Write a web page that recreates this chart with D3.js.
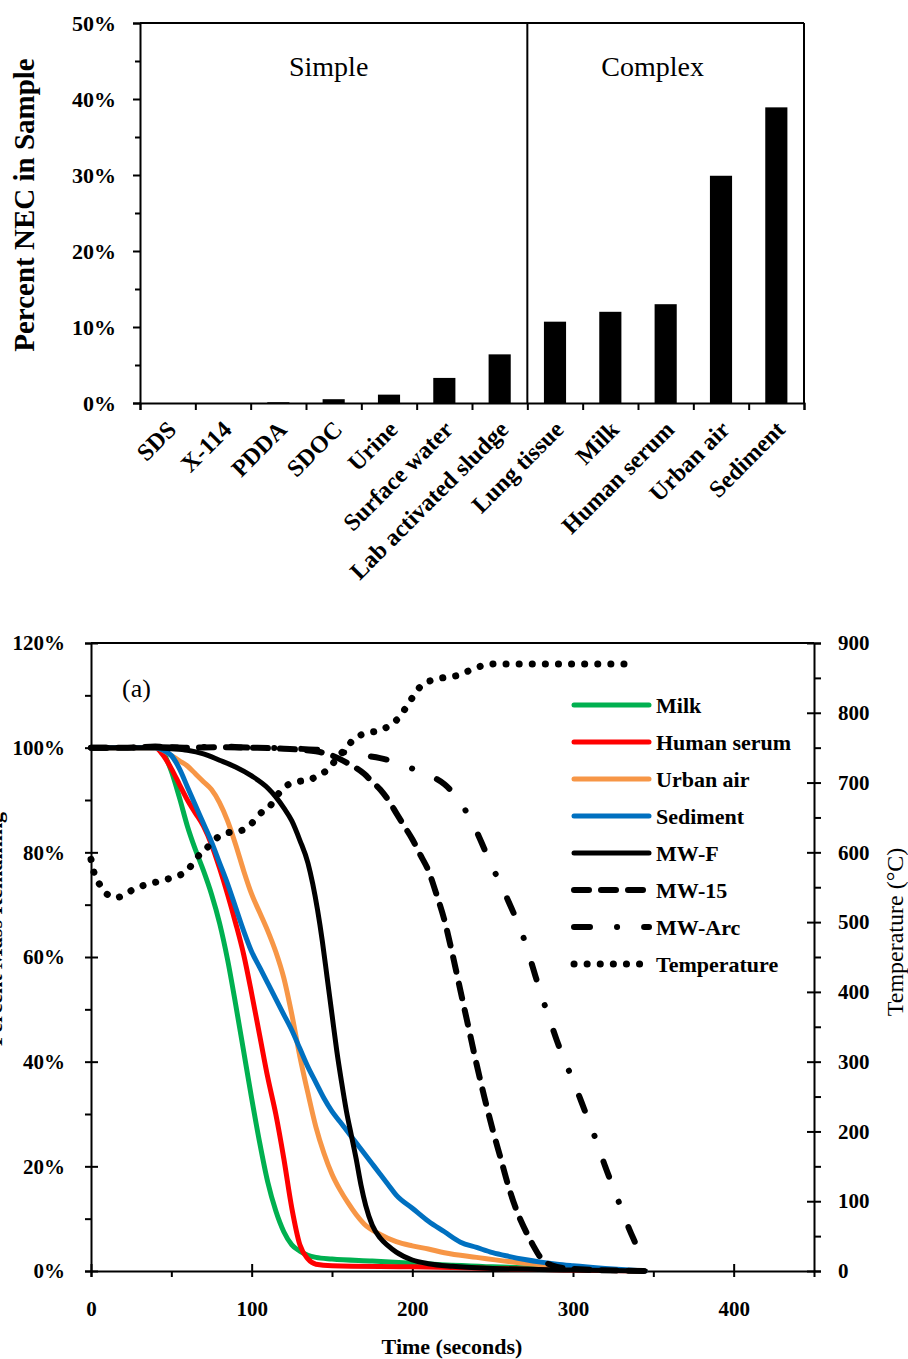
<!DOCTYPE html>
<html lang="en">
<head>
<meta charset="utf-8">
<script src="https://d3js.org/d3.v7.min.js"></script>
<style>
  body { margin: 0; background: white; }
  svg { font-family: 'Liberation Serif', 'Times New Roman', serif; }
  .axis path, .axis line, .frame { stroke: black; stroke-width: 2px; fill: none; }
  .axis text { font-family: 'Liberation Serif', 'Times New Roman', serif; font-weight: bold; fill: black; }
  .series { fill: none; stroke-linejoin: round; }
</style>
</head>
<body>
<svg width="908" height="1359"></svg>
<script>
// ---- top chart data: percent NEC per sample
var categories = ["SDS", "X-114", "PDDA", "SDOC", "Urine", "Surface water", "Lab activated sludge",
                  "Lung tissue", "Milk", "Human serum", "Urban air", "Sediment"];
var necPercent = [0, 0, 0.1, 0.5, 1.1, 3.3, 6.4, 10.7, 12.0, 13.0, 29.9, 38.9];
var groupLabels = ["Simple", "Complex"];

// ---- bottom chart data: percent mass remaining vs time (s)
var milk = [[0,100],[40,100],[45,99],[50,95.5],[55,90.5],[60,85],[65,80.5],[70,76.5],[75,72],[80,66.5],[85,59.5],
  [90,51],[95,42],[100,33],[105,24.5],[110,17],[115,11.5],[120,7.5],[125,5],[130,3.8],[135,3],[140,2.6],
  [150,2.3],[175,1.9],[200,1.5],[250,0.8],[300,0.4],[345,0]];
var humanSerum = [[0,100],[40,100],[45,98.5],[50,96],[55,93],[60,90],[65,87.5],[70,85],[75,81.5],[80,77],[85,72],
  [90,66.5],[95,60.5],[100,53],[105,45],[110,37],[115,30],[120,21.5],[125,12],[130,5],[135,2.3],[140,1.3],
  [150,1],[200,0.8],[250,0.5],[300,0.2],[345,0]];
var urbanAir = [[0,100],[40,100],[45,99.5],[50,98.5],[55,97.5],[60,96.5],[65,95],[70,93.5],[75,92],[80,89.5],
  [85,86],[90,81.5],[95,76.5],[100,72],[105,68.5],[110,65],[115,61],[120,56],[125,49],[130,41],[135,34],
  [140,27.5],[145,22.5],[150,18.5],[155,15.5],[160,13],[165,10.8],[170,9],[180,7],[190,5.6],[200,4.8],
  [210,4.2],[220,3.5],[240,2.6],[260,1.8],[280,1.2],[300,0.7],[320,0.3],[345,0]];
var sediment = [[0,100],[40,100],[45,99.5],[50,98.5],[55,96],[60,92.5],[65,89],[70,85.5],[75,82],[80,78],
  [85,74],[90,69.5],[95,65],[100,61],[105,58],[110,55],[115,52],[120,49],[125,46],[130,42.5],[135,39],
  [140,36],[145,33],[150,30.5],[155,28.5],[160,26.5],[165,24.5],[170,22.5],[175,20.5],[180,18.5],
  [185,16.5],[190,14.5],[200,12],[210,9.5],[220,7.5],[230,5.5],[240,4.5],[250,3.5],[260,2.8],[270,2.2],
  [280,1.7],[290,1.3],[300,1],[320,0.5],[345,0]];
var mwF = [[0,100],[40,100],[50,99.8],[60,99.5],[70,98.8],[80,97.6],[90,96.3],[100,94.6],[110,92.3],[115,90.6],
  [120,88.5],[125,86],[130,82.3],[135,78],[138,74],[141,69],[144,63],[147,56],[150,49],[153,42],[156,36],
  [159,30.5],[162,26],[165,21.5],[168,16.5],[171,12.5],[175,8.8],[180,6.3],[185,4.8],[190,3.6],[200,2.1],
  [210,1.4],[225,0.9],[250,0.5],[300,0.2],[345,0]];
var mw15 = [[0,100],[20,100],[40,100.2],[60,100],[80,100.1],[100,100],[120,99.8],[140,99.3],[150,98.5],
  [160,97],[170,95],[175,93.5],[180,92],[185,90],[190,87.5],[195,85],[200,82.5],[205,79.5],[210,76.5],
  [215,72],[220,67],[225,60.5],[230,53.5],[235,46.5],[240,39.5],[245,33],[250,27],[255,21.5],[260,16],
  [265,11.5],[270,8],[275,5],[280,2.5],[285,1.3],[290,0.8],[300,0.4],[345,0]];
var mwArc = [[0,100],[20,100],[40,100.1],[60,100],[80,100.2],[100,100],[120,99.9],[140,99.6],[160,99],
  [170,98.5],[180,98],[190,97.2],[200,96],[210,94.8],[220,93],[225,91.5],[230,89.5],[235,87],[240,84],
  [245,80.5],[250,77],[255,74],[260,70.5],[265,67],[270,63],[275,58],[280,53],[285,48.5],[290,44],
  [295,40],[300,36.5],[305,32.5],[310,28.5],[315,24.5],[320,20],[325,16],[330,12],[335,8],[340,4.5],[342,3]];
var temperature = [[0,590],[2,570],[6,552],[10,540],[15,535],[20,538],[25,545],[32,552],[40,557],[48,562],
  [55,567],[60,574],[65,590],[72,606],[78,620],[85,628],[92,630],[99,639],[105,655],[111,665],[116,682],
  [122,696],[128,701],[136,704],[142,711],[149,722],[153,735],[158,747],[164,763],[172,771],[180,775],
  [186,782],[192,794],[197,811],[201,825],[206,840],[213,847],[221,851],[229,854],[236,861],[243,867],
  [251,870],[300,870],[338,870]];

var seriesNames = ["Milk", "Human serum", "Urban air", "Sediment", "MW-F", "MW-15", "MW-Arc", "Temperature"];

var svg = d3.select("svg");

// ================= top bar chart =================
var m1 = { left: 140, right: 804, top: 23, bottom: 403 };

var x1 = d3.scaleBand().domain(categories).range([m1.left, m1.right])
    .paddingInner(0.6).paddingOuter(0.3);
var y1 = d3.scaleLinear().domain([0, 50]).range([m1.bottom, m1.top]);

var g1 = svg.append("g");

// minor ticks
g1.append("g").attr("class", "axis")
    .attr("transform", "translate(" + m1.left + ",0)")
    .call(d3.axisLeft(y1).tickValues(d3.range(5, 50, 10)).tickSize(5).tickFormat(""))
    .select(".domain").remove();

g1.append("g").attr("class", "axis")
    .attr("transform", "translate(" + m1.left + ",0)")
    .call(d3.axisLeft(y1).tickValues(d3.range(0, 51, 10)).tickSize(7).tickPadding(17)
      .tickFormat(d => d + "%"))
    .call(g => g.selectAll("text").style("font-size", "22px"));

// bottom axis with ticks on band boundaries
var xb = d3.scaleLinear().domain([0, categories.length]).range([m1.left, m1.right]);
g1.append("g").attr("class", "axis")
    .attr("transform", "translate(0," + m1.bottom + ")")
    .call(d3.axisBottom(xb).ticks(categories.length).tickSize(7).tickFormat(""));

g1.append("line").attr("class", "frame")
    .attr("x1", m1.left).attr("x2", m1.right).attr("y1", m1.top).attr("y2", m1.top);
g1.append("line").attr("class", "frame")
    .attr("x1", m1.right).attr("x2", m1.right).attr("y1", m1.top).attr("y2", m1.bottom);
// divider simple/complex
var divX = xb(7);
g1.append("line").attr("class", "frame")
    .attr("x1", divX).attr("x2", divX).attr("y1", m1.top).attr("y2", m1.bottom);

g1.selectAll("rect.bar").data(categories).enter().append("rect")
    .attr("class", "bar")
    .attr("x", d => x1(d))
    .attr("width", x1.bandwidth())
    .attr("y", (d, i) => y1(necPercent[i]))
    .attr("height", (d, i) => y1(0) - y1(necPercent[i]))
    .attr("fill", "black");

g1.selectAll("text.grp").data(groupLabels).enter().append("text")
    .attr("x", (d, i) => i === 0 ? (m1.left + divX) / 2 - 5 : (divX + m1.right) / 2 - 13)
    .attr("y", 76)
    .attr("text-anchor", "middle")
    .style("font-size", "28px")
    .text(d => d);

g1.selectAll("text.cat").data(categories).enter().append("text")
    .attr("transform", d => "translate(" + (x1(d) + x1.bandwidth() / 2 + 10) + ",431) rotate(-45)")
    .attr("text-anchor", "end")
    .style("font-size", "24px")
    .style("font-weight", "bold")
    .text(d => d);

g1.append("text")
    .attr("transform", "translate(34," + ((m1.top + m1.bottom) / 2 - 8) + ") rotate(-90)")
    .attr("text-anchor", "middle")
    .style("font-size", "29px")
    .style("font-weight", "bold")
    .text("Percent NEC in Sample");

// ================= bottom line chart =================
var m2 = { left: 91, right: 814, top: 643, bottom: 1271 };

var x2 = d3.scaleLinear().domain([0, 450]).range([m2.left, m2.right]);
var y2 = d3.scaleLinear().domain([0, 120]).range([m2.bottom, m2.top]);
var yT = d3.scaleLinear().domain([0, 900]).range([m2.bottom, m2.top]);

var g2 = svg.append("g");

g2.append("line").attr("class", "frame")
    .attr("x1", m2.left).attr("x2", m2.right).attr("y1", m2.top).attr("y2", m2.top);

// left axis
g2.append("g").attr("class", "axis")
    .attr("transform", "translate(" + m2.left + ",0)")
    .call(d3.axisLeft(y2).tickValues(d3.range(10, 120, 20)).tickSize(6).tickFormat(""))
    .select(".domain").remove();
g2.append("g").attr("class", "axis")
    .attr("transform", "translate(" + m2.left + ",0)")
    .call(d3.axisLeft(y2).tickValues(d3.range(0, 121, 20)).tickSize(6).tickPadding(20)
      .tickFormat(d => d + "%"))
    .call(g => g.selectAll(".tick line").attr("x2", 7).attr("x1", -6))
    .call(g => g.selectAll("text").style("font-size", "21px"));

// right axis
g2.append("g").attr("class", "axis")
    .attr("transform", "translate(" + m2.right + ",0)")
    .call(d3.axisRight(yT).tickValues(d3.range(50, 900, 100)).tickSize(7).tickFormat(""))
    .select(".domain").remove();
g2.append("g").attr("class", "axis")
    .attr("transform", "translate(" + m2.right + ",0)")
    .call(d3.axisRight(yT).tickValues(d3.range(0, 901, 100)).tickSize(7).tickPadding(17))
    .call(g => g.selectAll(".tick line").attr("x1", -7))
    .call(g => g.selectAll("text").style("font-size", "21px"));

// bottom axis
g2.append("g").attr("class", "axis")
    .attr("transform", "translate(0," + m2.bottom + ")")
    .call(d3.axisBottom(x2).tickValues(d3.range(50, 450, 100)).tickSize(6).tickFormat(""))
    .select(".domain").remove();
g2.append("g").attr("class", "axis")
    .attr("transform", "translate(0," + m2.bottom + ")")
    .call(d3.axisBottom(x2).tickValues(d3.range(0, 401, 100)).tickSize(6).tickPadding(24))
    .call(g => g.selectAll(".tick line").attr("y1", -7))
    .call(g => g.selectAll("text").style("font-size", "21px"));

var styles = [
  { data: milk, color: "#00b050", width: 5, dash: null, scale: y2 },
  { data: humanSerum, color: "#ff0000", width: 5, dash: null, scale: y2 },
  { data: urbanAir, color: "#f79646", width: 5, dash: null, scale: y2 },
  { data: sediment, color: "#0070c0", width: 5, dash: null, scale: y2 },
  { data: mwF, color: "#000000", width: 5, dash: null, scale: y2 },
  { data: mw15, color: "#000000", width: 6, dash: "15,12", scale: y2 },
  { data: mwArc, color: "#000000", width: 6, dash: "16,27,0.1,27", scale: y2 },
  { data: temperature, color: "#000000", width: 7, dash: "0.1,13", scale: yT }
];

styles.forEach(function (s) {
  var line = d3.line().curve(d3.curveMonotoneX)
      .x(d => x2(d[0])).y(d => s.scale(d[1]));
  g2.append("path").datum(s.data)
      .attr("class", "series")
      .attr("d", line)
      .attr("stroke", s.color)
      .attr("stroke-width", s.width)
      .attr("stroke-linecap", "round")
      .attr("stroke-dasharray", s.dash);
});

// legend
var leg = g2.append("g").attr("transform", "translate(574,705)");
seriesNames.forEach(function (name, i) {
  var s = styles[i];
  var row = leg.append("g").attr("transform", "translate(0," + i * 37 + ")");
  row.append("line")
      .attr("x1", 0).attr("x2", 75).attr("y1", 0).attr("y2", 0)
      .attr("stroke", s.color).attr("stroke-width", s.width)
      .attr("stroke-linecap", "round")
      .attr("stroke-dasharray", s.dash);
  row.append("text").attr("x", 82).attr("y", 8)
      .style("font-size", "22px").style("font-weight", "bold")
      .text(name);
});

g2.append("text").attr("x", 122).attr("y", 697)
    .style("font-size", "26px").text("(a)");

g2.append("text")
    .attr("x", 452).attr("y", 1354)
    .attr("text-anchor", "middle")
    .style("font-size", "22px").style("font-weight", "bold")
    .text("Time (seconds)");

g2.append("text")
    .attr("transform", "translate(2,929) rotate(-90)")
    .attr("text-anchor", "middle")
    .style("font-size", "22px").style("font-weight", "bold")
    .text("Percent Mass Remaining");

g2.append("text")
    .attr("transform", "translate(903,932) rotate(-90)")
    .attr("text-anchor", "middle")
    .style("font-size", "24px")
    .text("Temperature (\u00B0C)");
</script>
</body>
</html>
